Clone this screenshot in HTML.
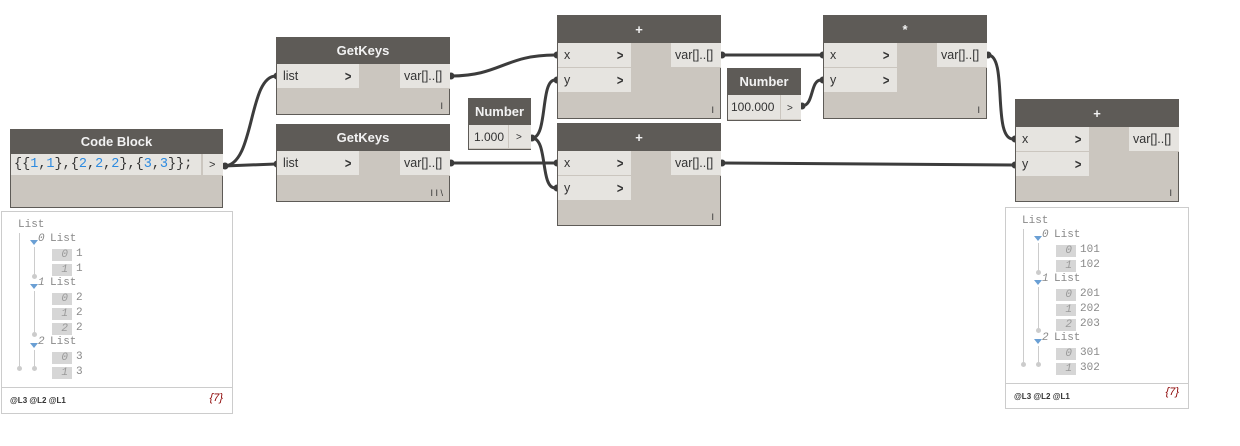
<!DOCTYPE html>
<html><head><meta charset="utf-8"><style>
*{margin:0;padding:0;box-sizing:border-box}
body{width:1240px;height:446px;background:#fff;position:relative;overflow:hidden;font-family:"Liberation Sans",sans-serif}
.n{position:absolute;background:#cbc6bf;border:1px solid #5e5b57}
.h{position:absolute;left:0;right:0;top:0;background:#5e5b57;color:#f2f2f2;font-weight:bold;font-size:13px;text-align:center}
.r{position:absolute;background:#e6e4e0;font-size:12.5px;color:#333;padding-left:6px;border-bottom:1px solid #cbc6bf}
.ar{position:absolute;right:7px;top:0;font-weight:bold;color:#333;font-size:14px;transform:scaleX(0.8)}
.f{position:absolute;right:6px;bottom:3px;font-size:9px;color:#333}
.w{position:absolute;border:1px solid #ccc;background:#fff;font-family:"Liberation Mono",monospace;font-size:11px;color:#888}
.w div{position:absolute;white-space:nowrap}
.ix{background:#d6d6d6;width:20px;height:12px;text-align:right;padding-right:4px;font-style:italic;color:#999;line-height:12px}
.vl{border-left:1px solid #ccc;width:0}
.dot{width:5px;height:5px;border-radius:50%;background:#ccc}
.tri{width:0;height:0;border-left:4px solid transparent;border-right:4px solid transparent;border-top:5px solid #6a9fd4}
.ft{font-family:"Liberation Sans",sans-serif;font-size:8px;color:#333;font-weight:bold}
</style></head><body>
<svg width="1240" height="446" style="position:absolute;left:0;top:0" fill="none" stroke="#3c3c3c" stroke-width="3">
<path d="M224,166 C255,166 248,76 276,76"/>
<path d="M224,166 L276,164"/>
<path d="M451,76 C500,76 505,55 555,55"/>
<path d="M451,163 L555,163"/>
<path d="M532,138 C548,138 540,80 555,80"/>
<path d="M532,138 C548,138 540,188 555,188"/>
<path d="M722,55 L821,55"/>
<path d="M802,106 C814,106 810,80 821,80"/>
<path d="M988,55 C1008,55 992,139 1013,139"/>
<path d="M722,163 L1013,165"/>
<g fill="#3c3c3c" stroke="none">
<circle cx="225" cy="166" r="3.5"/><circle cx="277" cy="76" r="3.5"/><circle cx="277" cy="164" r="3.5"/>
<circle cx="451" cy="76" r="3.5"/><circle cx="451" cy="163" r="3.5"/><circle cx="532" cy="138" r="3.5"/>
<circle cx="557" cy="55" r="3.5"/><circle cx="557" cy="80" r="3.5"/><circle cx="557" cy="163" r="3.5"/><circle cx="557" cy="188" r="3.5"/>
<circle cx="722" cy="55" r="3.5"/><circle cx="722" cy="163" r="3.5"/><circle cx="802" cy="106" r="3.5"/>
<circle cx="823" cy="55" r="3.5"/><circle cx="823" cy="80" r="3.5"/><circle cx="988" cy="55" r="3.5"/>
<circle cx="1015" cy="139" r="3.5"/><circle cx="1015" cy="165" r="3.5"/>
</g>
</svg>

<div class="n" style="left:10px;top:129px;width:213px;height:79px">
<div class="h" style="height:24px;line-height:24px">Code Block</div>
<div class="r" style="left:0;top:24px;width:190px;height:22px;line-height:22px;font-family:'Liberation Mono',monospace;font-size:13.5px;padding-left:3px">{{<span style="color:#2c8ae0">1</span>,<span style="color:#2c8ae0">1</span>},{<span style="color:#2c8ae0">2</span>,<span style="color:#2c8ae0">2</span>,<span style="color:#2c8ae0">2</span>},{<span style="color:#2c8ae0">3</span>,<span style="color:#2c8ae0">3</span>}};</div>
<div class="r" style="left:192px;top:24px;width:20px;height:22px;line-height:22px;font-size:11px;padding-left:6px">&gt;</div>
</div>

<div class="n" style="left:276px;top:37px;width:174px;height:78px">
<div class="h" style="height:26px;line-height:26px">GetKeys</div>
<div class="r" style="left:0;top:26px;width:82px;height:25px;line-height:25px">list<span class="ar">&gt;</span></div>
<div class="r" style="left:123px;top:26px;width:50px;height:25px;line-height:25px;padding-left:4px">var[]..[]</div>
<div class="f">I</div></div>
<div class="n" style="left:276px;top:124px;width:174px;height:78px">
<div class="h" style="height:26px;line-height:26px">GetKeys</div>
<div class="r" style="left:0;top:26px;width:82px;height:25px;line-height:25px">list<span class="ar">&gt;</span></div>
<div class="r" style="left:123px;top:26px;width:50px;height:25px;line-height:25px;padding-left:4px">var[]..[]</div>
<div class="f">I I \</div></div>

<div class="n" style="left:468px;top:98px;width:63px;height:52px">
<div class="h" style="height:26px;line-height:26px">Number</div>
<div class="r" style="left:0;top:26px;width:39px;height:24px;line-height:24px;padding-left:5px;font-size:12px">1.000</div>
<div class="r" style="left:40px;top:26px;width:22px;height:24px;line-height:26px;font-size:10px;padding-left:7px">&gt;</div></div>

<div class="n" style="left:557px;top:15px;width:164px;height:104px">
<div class="h" style="height:27px;line-height:27px">+</div>
<div class="r" style="left:0;top:27px;width:73px;height:25px;line-height:25px">x<span class="ar">&gt;</span></div>
<div class="r" style="left:0;top:52px;width:73px;height:25px;line-height:25px">y<span class="ar">&gt;</span></div>
<div class="r" style="left:113px;top:27px;width:50px;height:25px;line-height:25px;padding-left:4px">var[]..[]</div>
<div class="f">I</div></div>
<div class="n" style="left:557px;top:123px;width:164px;height:103px">
<div class="h" style="height:27px;line-height:27px">+</div>
<div class="r" style="left:0;top:27px;width:73px;height:25px;line-height:25px">x<span class="ar">&gt;</span></div>
<div class="r" style="left:0;top:52px;width:73px;height:25px;line-height:25px">y<span class="ar">&gt;</span></div>
<div class="r" style="left:113px;top:27px;width:50px;height:25px;line-height:25px;padding-left:4px">var[]..[]</div>
<div class="f">I</div></div>

<div class="n" style="left:727px;top:68px;width:74px;height:53px">
<div class="h" style="height:26px;line-height:26px">Number</div>
<div class="r" style="left:0;top:26px;width:52px;height:25px;line-height:25px;padding-left:3px;font-size:12px">100.000</div>
<div class="r" style="left:53px;top:26px;width:20px;height:25px;line-height:27px;font-size:10px;padding-left:6px">&gt;</div></div>

<div class="n" style="left:823px;top:15px;width:164px;height:104px">
<div class="h" style="height:27px;line-height:27px">*</div>
<div class="r" style="left:0;top:27px;width:73px;height:25px;line-height:25px">x<span class="ar">&gt;</span></div>
<div class="r" style="left:0;top:52px;width:73px;height:25px;line-height:25px">y<span class="ar">&gt;</span></div>
<div class="r" style="left:113px;top:27px;width:50px;height:25px;line-height:25px;padding-left:4px">var[]..[]</div>
<div class="f">I</div></div>

<div class="n" style="left:1015px;top:99px;width:164px;height:103px">
<div class="h" style="height:27px;line-height:27px">+</div>
<div class="r" style="left:0;top:27px;width:73px;height:25px;line-height:25px">x<span class="ar">&gt;</span></div>
<div class="r" style="left:0;top:52px;width:73px;height:25px;line-height:25px">y<span class="ar">&gt;</span></div>
<div class="r" style="left:113px;top:27px;width:50px;height:25px;line-height:25px;padding-left:4px">var[]..[]</div>
<div class="f">I</div></div>

<div class="w" style="left:1px;top:211px;width:232px;height:203px">
<div style="left:16px;top:7px">List</div>
<div class="vl" style="left:17px;top:21px;height:134px"></div>
<div class="dot" style="left:15px;top:154px"></div>
<div class="tri" style="left:28px;top:28px"></div><div style="left:36px;top:21px;font-style:italic">0</div><div style="left:48px;top:21px">List</div>
<div class="vl" style="left:32px;top:35px;height:29px"></div><div class="dot" style="left:30px;top:62px"></div>
<div class="ix" style="left:50px;top:37px">0</div><div style="left:74px;top:36px">1</div>
<div class="ix" style="left:50px;top:52px">1</div><div style="left:74px;top:51px">1</div>
<div class="tri" style="left:28px;top:72px"></div><div style="left:36px;top:65px;font-style:italic">1</div><div style="left:48px;top:65px">List</div>
<div class="vl" style="left:32px;top:79px;height:43px"></div><div class="dot" style="left:30px;top:120px"></div>
<div class="ix" style="left:50px;top:81px">0</div><div style="left:74px;top:80px">2</div>
<div class="ix" style="left:50px;top:96px">1</div><div style="left:74px;top:95px">2</div>
<div class="ix" style="left:50px;top:111px">2</div><div style="left:74px;top:110px">2</div>
<div class="tri" style="left:28px;top:131px"></div><div style="left:36px;top:124px;font-style:italic">2</div><div style="left:48px;top:124px">List</div>
<div class="vl" style="left:32px;top:138px;height:17px"></div><div class="dot" style="left:30px;top:154px"></div>
<div class="ix" style="left:50px;top:140px">0</div><div style="left:74px;top:139px">3</div>
<div class="ix" style="left:50px;top:155px">1</div><div style="left:74px;top:154px">3</div>
<div style="left:0;right:0;top:175px;border-top:1px solid #ccc;height:0"></div>
<div class="ft" style="left:8px;top:184px">@L3 @L2 @L1</div>
<div style="right:9px;top:180px;font-family:'Liberation Sans',sans-serif;font-style:italic;color:#8b0000;font-size:11px">{7}</div>
</div>

<div class="w" style="left:1005px;top:207px;width:184px;height:202px">
<div style="left:16px;top:7px">List</div>
<div class="vl" style="left:17px;top:21px;height:134px"></div>
<div class="dot" style="left:15px;top:154px"></div>
<div class="tri" style="left:28px;top:28px"></div><div style="left:36px;top:21px;font-style:italic">0</div><div style="left:48px;top:21px">List</div>
<div class="vl" style="left:32px;top:35px;height:29px"></div><div class="dot" style="left:30px;top:62px"></div>
<div class="ix" style="left:50px;top:37px">0</div><div style="left:74px;top:36px">101</div>
<div class="ix" style="left:50px;top:52px">1</div><div style="left:74px;top:51px">102</div>
<div class="tri" style="left:28px;top:72px"></div><div style="left:36px;top:65px;font-style:italic">1</div><div style="left:48px;top:65px">List</div>
<div class="vl" style="left:32px;top:79px;height:43px"></div><div class="dot" style="left:30px;top:120px"></div>
<div class="ix" style="left:50px;top:81px">0</div><div style="left:74px;top:80px">201</div>
<div class="ix" style="left:50px;top:96px">1</div><div style="left:74px;top:95px">202</div>
<div class="ix" style="left:50px;top:111px">2</div><div style="left:74px;top:110px">203</div>
<div class="tri" style="left:28px;top:131px"></div><div style="left:36px;top:124px;font-style:italic">2</div><div style="left:48px;top:124px">List</div>
<div class="vl" style="left:32px;top:138px;height:17px"></div><div class="dot" style="left:30px;top:154px"></div>
<div class="ix" style="left:50px;top:140px">0</div><div style="left:74px;top:139px">301</div>
<div class="ix" style="left:50px;top:155px">1</div><div style="left:74px;top:154px">302</div>
<div style="left:0;right:0;top:175px;border-top:1px solid #ccc;height:0"></div>
<div class="ft" style="left:8px;top:184px">@L3 @L2 @L1</div>
<div style="right:9px;top:178px;font-family:'Liberation Sans',sans-serif;font-style:italic;color:#8b0000;font-size:11px">{7}</div>
</div>
</body></html>
